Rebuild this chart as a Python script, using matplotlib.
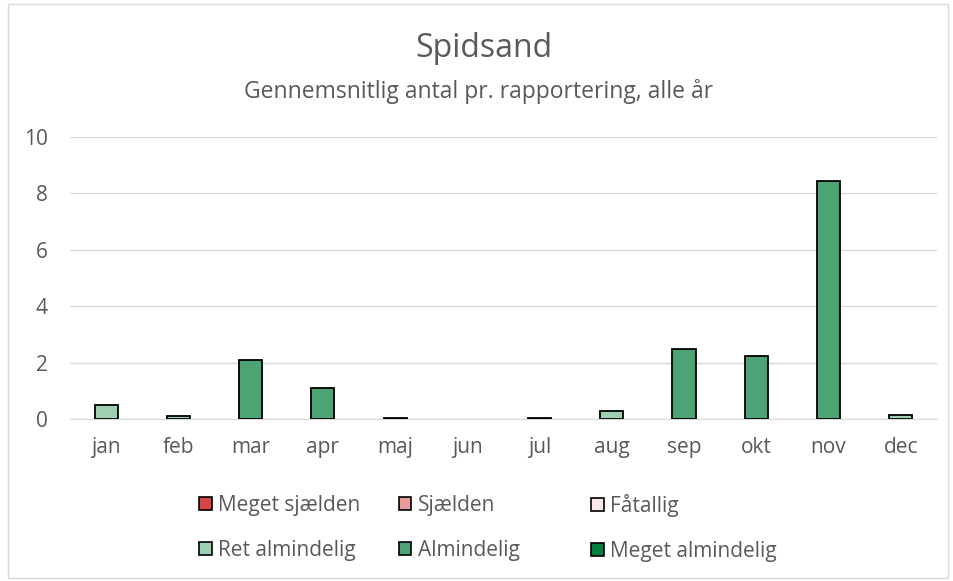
import matplotlib.pyplot as plt
import numpy as np
from matplotlib.patches import Patch, Rectangle

plt.rcParams['font.family'] = ['Open Sans', 'DejaVu Sans']

months = ['jan', 'feb', 'mar', 'apr', 'maj', 'jun', 'jul', 'aug', 'sep', 'okt', 'nov', 'dec']
series_names = ['Meget sjælden', 'Sjælden', 'Fåtallig',
                'Ret almindelig', 'Almindelig', 'Meget almindelig']
series_colors = ['#D64545', '#E99B9B', '#FBE6E6', '#9DCFB1', '#4CA475', '#00803C']

meget_sjaelden = [0, 0, 0, 0, 0, 0, 0, 0, 0, 0, 0, 0]
sjaelden = [0, 0, 0, 0, 0, 0, 0, 0, 0, 0, 0, 0]
faatallig = [0, 0, 0, 0, 0.02, 0, 0.02, 0, 0, 0, 0, 0]
ret_almindelig = [0.48, 0.1, 0, 0, 0, 0, 0, 0.28, 0, 0, 0, 0.13]
almindelig = [0, 0, 2.11, 1.11, 0, 0, 0, 0, 2.49, 2.23, 8.44, 0]
meget_almindelig = [0, 0, 0, 0, 0, 0, 0, 0, 0, 0, 0, 0]

series = [meget_sjaelden, sjaelden, faatallig, ret_almindelig, almindelig, meget_almindelig]

txt = '#595959'
fig = plt.figure(figsize=(9.54, 5.81), dpi=100)
ax = fig.add_axes([0.0734, 0.2788, 0.9086, 0.4852])

x = np.arange(len(months))
bottom = np.zeros(len(months))
for vals, clr in zip(series, series_colors):
    vals = np.array(vals, dtype=float)
    m = vals > 0
    if m.any():
        ax.bar(x[m], vals[m], width=0.32, bottom=bottom[m], color=clr,
               edgecolor='black', linewidth=1.3, zorder=3)
    bottom += vals

ax.set_xlim(-0.5, 11.5)
ax.set_ylim(0, 10)
ax.set_yticks([0, 2, 4, 6, 8, 10])
ax.set_xticks(x)
ax.set_xticklabels(months)
ax.grid(axis='y', color='#D9D9D9', linewidth=1)
ax.set_axisbelow(True)
for s in ['top', 'right', 'left']:
    ax.spines[s].set_visible(False)
ax.spines['bottom'].set_color('#D9D9D9')
ax.tick_params(axis='both', length=0, labelsize=15, colors=txt)
ax.tick_params(axis='x', pad=13)
ax.tick_params(axis='y', pad=16)

fig.text(0.507, 0.916, 'Spidsand', ha='center', va='center', fontsize=23, color=txt)
fig.text(0.502, 0.842, 'Gennemsnitlig antal pr. rapportering, alle år',
         ha='center', va='center', fontsize=16.5, color=txt)

# legend: three columns placed separately
col_x = [0.209, 0.418, 0.620]
for c in range(3):
    handles = []
    for r in range(2):
        i = r * 3 + c
        handles.append(Patch(facecolor=series_colors[i], edgecolor='black',
                             linewidth=1.2, label=series_names[i]))
    fig.legend(handles=handles, loc='center left', bbox_to_anchor=(col_x[c], 0.0915),
               frameon=False, fontsize=15, labelcolor=txt, handlelength=0.6,
               handleheight=0.6, handletextpad=0.3, labelspacing=1.12,
               borderaxespad=0, borderpad=0)

fig.patches.append(Rectangle((0.008, 0.005), 0.986, 0.988, transform=fig.transFigure,
                             fill=False, edgecolor='#D9D9D9', linewidth=1))

fig.savefig('out.png', dpi=100)
